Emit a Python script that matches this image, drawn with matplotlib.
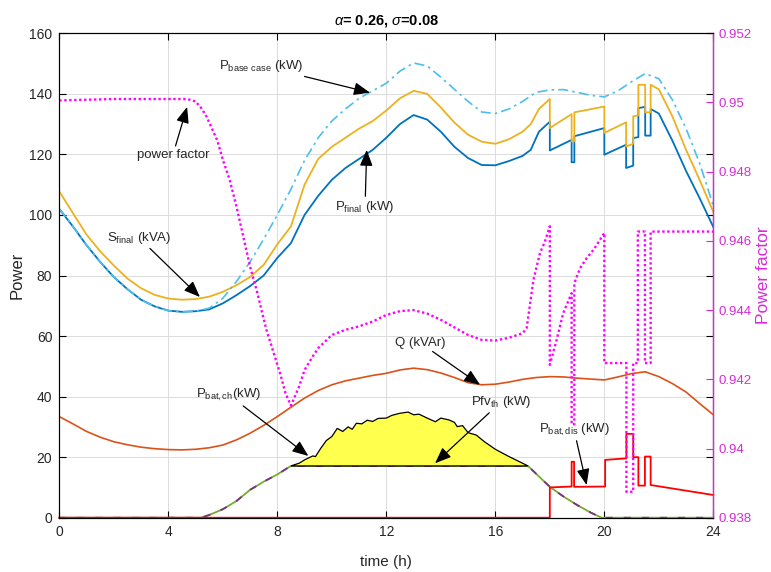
import matplotlib
matplotlib.use('Agg')
import matplotlib.pyplot as plt

plt.rcParams['font.family'] = ['Liberation Sans', 'DejaVu Sans']
plt.rcParams['mathtext.fontset'] = 'custom'
plt.rcParams['mathtext.rm'] = 'Liberation Sans'
plt.rcParams['mathtext.it'] = 'Liberation Sans:italic'
plt.rcParams['mathtext.bf'] = 'Liberation Sans:bold'

# ---- data ----
# P final (kW), blue
t_final = [0, 0.5, 1, 1.5, 2, 2.5, 3, 3.5, 4, 4.5, 5, 5.5, 6, 6.5, 7, 7.5, 8, 8.5, 9, 9.5,
           10, 10.5, 11, 11.5, 12, 12.5, 13, 13.5, 14, 14.5, 15, 15.5, 16, 16.5, 17, 17.3, 17.6,
           18, 18, 18.8, 18.8, 18.9, 18.9, 20, 20, 20.8, 20.8, 21.06, 21.06, 21.25, 21.25,
           21.5, 21.5, 21.7, 21.7, 22, 22.5, 23, 23.5, 24]
p_final = [102, 96.2, 90, 84.5, 79.5, 75.5, 72, 69.8, 68.4, 68, 68.2, 68.8, 70.8, 73.5, 76.5, 80,
           85.8, 90.7, 100, 106.3, 111.6, 115.5, 118.5, 121.5, 125.5, 130, 133, 131.5, 127.5,
           122.5, 118.8, 116.5, 116.4, 117.8, 119.5, 121.5, 127.5, 130.8, 121.3, 124.8, 117.4,
           117.4, 126, 128.7, 119.9, 123.2, 115.5, 116.3, 125.4, 125.7, 135.3, 135.7, 126.2,
           126.2, 135, 133.5, 124.5, 114.5, 105.5, 96]

# S final (kVA), orange
t_sfinal = t_final
s_final = [107.8, 100.6, 93.5, 88, 83.3, 79, 75.8, 73.6, 72.4, 72, 72.2, 73, 74.6, 76.8, 79.5,
           83.5, 90.3, 96.2, 110, 118.5, 122.5, 125.5, 128.5, 131, 134.5, 138.5, 141, 140,
           135.5, 130.5, 126.5, 124.2, 123.5, 125, 127.5, 130, 135, 138.3, 128.7, 133.3, 124.3,
           124.3, 133.9, 135.8, 127.1, 130.6, 122.6, 123.5, 132.6, 132.9, 143, 143, 133.9,
           133.9, 143, 141.5, 132.5, 121.5, 111.5, 101]

# P base case (kW), light blue dash-dot
t_base = [0, 0.5, 1, 1.5, 2, 2.5, 3, 3.5, 4, 4.5, 5, 5.5, 6, 6.5, 7, 7.5, 8, 8.5, 9, 9.5, 10,
          10.5, 11, 11.5, 12, 12.5, 13, 13.5, 14, 14.5, 15, 15.5, 16, 16.5, 17, 17.5, 18, 18.5,
          19, 19.5, 20, 20.5, 21, 21.5, 22, 22.5, 23, 23.5, 24]
p_base = [102, 96.2, 90, 84.5, 79.5, 75.5, 72, 69.8, 68.4, 68, 68.2, 69.2, 72.5, 78, 84.5, 92,
          100, 108.5, 118, 125.5, 131, 135, 138.5, 141, 143.5, 147.5, 150.2, 149.2, 145.5,
          141.5, 137.5, 134, 133.5, 135, 137.5, 140.5, 141.3, 141.4, 140.5, 139.5, 139, 141,
          144, 146.7, 145, 138, 128.5, 117, 103]

# Q (kVAr)
t_q = [0, 0.5, 1, 1.5, 2, 2.5, 3, 3.5, 4, 4.5, 5, 5.5, 6, 6.5, 7, 7.5, 8, 8.5, 9, 9.5, 10, 10.5,
       11, 11.5, 12, 12.5, 13, 13.5, 14, 14.5, 15, 15.5, 16, 16.5, 17, 17.5, 18, 18.5, 19,
       19.5, 20, 20.5, 21, 21.5, 22, 22.5, 23, 23.5, 24]
q = [33.4, 31, 28.5, 26.6, 25.1, 24.1, 23.3, 22.8, 22.5, 22.4, 22.6, 23.1, 24, 25.7, 27.9,
     30.5, 33.4, 36.5, 39.5, 42, 43.9, 45.2, 46.1, 47, 47.7, 48.8, 49.4, 48.9, 47.8, 46.3,
     44.6, 43.9, 44.1, 44.8, 45.7, 46.3, 46.6, 46.5, 46.1, 45.8, 45.5, 46.5, 47.6, 48.2,
     46.6, 44.3, 41.5, 37.7, 34]

# PV generation above threshold (yellow area) and threshold
t_pv = [8.5, 8.8, 9, 9.3, 9.4, 9.6, 9.8, 10, 10.2, 10.4, 10.6, 10.75, 10.9, 11.1, 11.3, 11.5,
        11.7, 12, 12.2, 12.5, 12.8, 13, 13.2, 13.5, 13.8, 14, 14.3, 14.5, 14.6, 14.8, 15,
        15.3, 15.6, 16, 16.5, 17, 17.2]
pv = [17.1, 18, 19.1, 20.4, 20.2, 23, 25.5, 26.8, 29.5, 28.5, 30, 29.2, 31.2, 31, 32.2, 31.8,
      32.8, 32.9, 33.8, 34.5, 34.9, 34, 34.2, 32.9, 31.7, 32.9, 32.3, 31.5, 30.1, 30.4, 28.1,
      27.3, 25.1, 22.6, 20.2, 18, 17.1]
pfv_th = 17.1

# PV used (green / purple dashed)
t_pvu = [0, 5.2, 5.5, 6, 6.5, 7, 7.5, 8, 8.5, 17.2, 17.5, 18, 18.5, 19, 19.5, 19.9, 24]
pv_used = [0, 0, 0.9, 2.8, 5.5, 9.2, 11.9, 14.3, 17.1, 17.1, 14.5, 10.2, 7, 4.2, 1.7, 0, 0]

# battery discharge (kW), red
t_dis = [0, 18, 18, 18.8, 18.8, 18.89, 18.89, 20.03, 20.03, 20.81, 20.81, 21.06, 21.06,
         21.25, 21.25, 21.49, 21.49, 21.7, 21.7, 24]
p_dis = [0, 0, 10, 10.3, 18.5, 18.5, 10.2, 10.3, 19.1, 19.6, 27.7, 27.7, 20, 20, 10.6, 10.6,
         20.2, 20.2, 10.8, 7.5]

# power factor (right axis)
t_pf = [0, 1, 2, 3, 4, 4.7, 5, 5.2, 5.4, 5.8, 6, 6.25, 6.5, 6.75, 7, 7.25, 7.6, 8.1, 8.3, 8.5,
        8.8, 9, 9.3, 9.5, 10, 10.5, 11, 11.5, 12, 12.5, 13, 13.5, 14, 14.5, 15, 15.5, 16,
        16.5, 17, 17.15, 17.4, 17.64, 17.82, 18, 18, 18.25, 18.49, 18.8, 18.8, 18.9, 18.9,
        19.11, 19.35, 19.6, 19.84, 20, 20, 20.81, 20.81, 21.06, 21.06, 21.23, 21.23, 21.49,
        21.49, 21.7, 21.7, 24]
pf = [0.95006, 0.95008, 0.9501, 0.9501, 0.9501, 0.9501, 0.95003, 0.94985, 0.9496, 0.9489,
      0.94835, 0.94777, 0.947, 0.94613, 0.94526, 0.94455, 0.94343, 0.94218, 0.9416, 0.94124,
      0.94179, 0.94227, 0.94266, 0.9429, 0.94328, 0.94343, 0.94353, 0.94367, 0.94386,
      0.94397, 0.944, 0.9439, 0.94372, 0.9435, 0.94328, 0.94314, 0.94312, 0.9432, 0.94333,
      0.94348, 0.94488, 0.94565, 0.94598, 0.94642, 0.94242, 0.94314, 0.94391, 0.94449,
      0.9407, 0.9407, 0.94478, 0.94521, 0.9455, 0.94574, 0.94603, 0.94623, 0.94247, 0.94247,
      0.93875, 0.93875, 0.94247, 0.94247, 0.94627, 0.94627, 0.94247, 0.94247, 0.94627,
      0.94627]

x_ticks = [0, 4, 8, 12, 16, 20, 24]
y_ticks = [0, 20, 40, 60, 80, 100, 120, 140, 160]
pf_ticks = [0.938, 0.94, 0.942, 0.944, 0.946, 0.948, 0.95, 0.952]
pf_labels = ['0.938', '0.94', '0.942', '0.944', '0.946', '0.948', '0.95', '0.952']

MAG = '#FF00FF'
MAG_AX = '#D62AD6'

fig = plt.figure(figsize=(7.71, 5.72), dpi=100)
ax = fig.add_axes([0.0769, 0.0949, 0.8483, 0.8469])
ax2 = ax.twinx()

ax.grid(True, color='#dcdcdc', lw=0.7)
ax.set_axisbelow(True)

ax.plot(t_q, q, color='#D95319', lw=1.2, zorder=3)
ax.plot(t_pvu, pv_used, color='#77AC30', lw=1.3, zorder=3, clip_on=False)
ax.plot(t_pvu, pv_used, color='#7E2F8E', lw=1.3, ls=(0, (4, 6)), zorder=3, clip_on=False)

# yellow area between PV and threshold
poly_x = t_pv + [t_pv[-1], t_pv[0]]
poly_y = pv + [pfv_th, pfv_th]
ax.fill(poly_x, poly_y, facecolor='#FFFF4D', edgecolor='k', lw=0.9, zorder=3.5)

ax.plot(t_dis, p_dis, color='#FF0000', lw=1.3, zorder=4, clip_on=False)
ax.plot(t_final, p_final, color='#0072BD', lw=1.3, zorder=4)
ax.plot(t_sfinal, s_final, color='#EDB120', lw=1.3, zorder=4)
ax.plot(t_base, p_base, color='#4DBEEE', lw=1.2, ls=(0, (6, 2.5, 1.5, 2.5)), zorder=5)

ax2.plot(t_pf, pf, color=MAG, lw=1.7, ls=(0, (1, 1.1)))

ax.set_xlim(0, 24)
ax.set_ylim(0, 160)
ax2.set_ylim(0.938, 0.952)
ax.set_xticks(x_ticks)
ax.set_yticks(y_ticks)
ax2.set_yticks(pf_ticks)
ax2.set_yticklabels(pf_labels)

ax.tick_params(direction='in', top=True, right=True, length=5, width=0.8,
               labelsize=10, labelcolor='#262626', pad=5)
ax2.tick_params(direction='in', length=5, width=0.8, colors=MAG_AX, labelsize=9.5, pad=4)
for s in ['left', 'top', 'bottom']:
    ax.spines[s].set_linewidth(0.8)
ax2.spines['right'].set_color(MAG_AX)
ax2.spines['right'].set_linewidth(1.0)

ax.set_xlabel('time (h)', fontsize=11, color='#262626', labelpad=12)
ax.set_ylabel('Power', fontsize=12, color='#262626', labelpad=3)
ax2.set_ylabel('Power factor', fontsize=12.5, color=MAG_AX)
ax2.yaxis.set_label_coords(1.066, 0.5)
ax.set_title(r'$\alpha$= 0.26, $\sigma$=0.08', fontsize=10.5, fontweight='bold', pad=6)

arrow = dict(arrowstyle='-|>,head_length=0.7,head_width=0.28', color='k', lw=0.9,
             mutation_scale=14, shrinkA=0, shrinkB=0)
notes = [
    (r'P$_{\mathrm{base\ case}}$ (kW)', (11.4, 140.4), (7.4, 149.3)),
    ('power factor', (4.69, 135.7), (4.17, 119.9)),
    (r'S$_{\mathrm{final}}$ (kVA)', (5.16, 72.9), (2.92, 92.5)),
    (r'P$_{\mathrm{final}}$ (kW)', (11.28, 121.5), (11.22, 102.6)),
    ('Q (kVAr)', (15.44, 43.9), (13.24, 57.8)),
    (r'P$_{\mathrm{bat,ch}}$(kW)', (9.14, 20.4), (6.23, 40.5)),
    (r'Pfv$_{\mathrm{th}}$ (kW)', (13.79, 18.0), (16.2, 38.2)),
    (r'P$_{\mathrm{bat,dis}}$ (kW)', (19.35, 10.8), (18.89, 29.0)),
]
for label, tip, pos in notes:
    ax.annotate(label, xy=tip, xytext=pos, ha='center', va='center', fontsize=9.5,
                color='#262626', arrowprops=arrow, zorder=6)

fig.savefig('out.png', dpi=100)
